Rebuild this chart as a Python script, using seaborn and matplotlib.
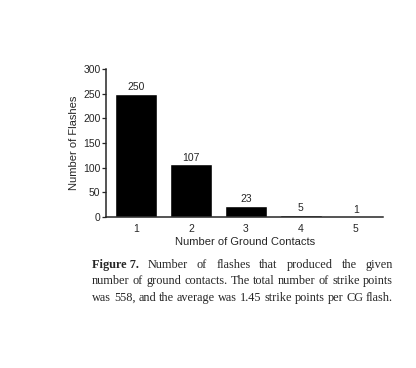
import matplotlib
matplotlib.use('Agg')
import matplotlib.pyplot as plt
import seaborn as sns
import pandas as pd

contacts = ['1', '2', '3', '4', '5']
flashes = [250, 107, 23, 5, 1]
y_ticks = [0, 50, 100, 150, 200, 250, 300]
fig_tag = 'Figure 7.'
caption_lines = [
    'Number of flashes that produced the given',
    'number of ground contacts. The total number of strike points',
    'was 558, and the average was 1.45 strike points per CG flash.',
]

sns.set_style('ticks')
plt.rcParams['font.family'] = ['Liberation Sans', 'DejaVu Sans']

df = pd.DataFrame({'contacts': contacts, 'flashes': flashes})

fig = plt.figure(figsize=(4.16, 3.68), dpi=100)
ax = fig.add_axes([0.255, 0.41, 0.666, 0.402])

sns.barplot(data=df, x='contacts', y='flashes', color='black', width=0.76,
            saturation=1, ax=ax)
ax.bar_label(ax.containers[0], labels=[str(v) for v in flashes], fontsize=7.5, padding=1)

ax.set_xlim(-0.55, 4.5)
ax.set_ylim(0, 300)
ax.set_yticks(y_ticks)
ax.tick_params(axis='y', labelsize=7.5, length=3, width=0.9, pad=1)
ax.tick_params(axis='x', labelsize=7.5, length=0, pad=5)
ax.set_xlabel('Number of Ground Contacts', fontsize=8, labelpad=2)
ax.set_ylabel('Number of Flashes', fontsize=8, labelpad=3)
sns.despine(ax=ax)
for s in ['left', 'bottom']:
    ax.spines[s].set_linewidth(1.1)

# caption, justified word by word
serif = ['Liberation Serif', 'DejaVu Serif']
x0, x1 = 92, 393
baselines = [268, 284, 301]  # whole pixels, keeps the words on one baseline
W, H = fig.bbox.width, fig.bbox.height
fig.canvas.draw()
r = fig.canvas.get_renderer()


def width(s, fs, weight='normal'):
    t = fig.text(0, 0, s, fontsize=fs, family=serif, weight=weight)
    w = t.get_window_extent(r).width
    t.remove()
    return w


fs = 9.4 * (x1 - x0) / max(width(caption_lines[1], 9.4), width(caption_lines[2], 9.4))

for i, line in enumerate(caption_lines):
    words = [(w, 'normal') for w in line.split()]
    if i == 0:
        words = [(fig_tag, 'bold')] + words
    y = 1 - baselines[i] / H
    arts = [fig.text(0, y, w, fontsize=fs, family=serif, weight=wt, va='baseline')
            for w, wt in words]
    widths = [a.get_window_extent(r).width for a in arts]
    gap = (x1 - x0 - sum(widths)) / (len(arts) - 1)
    x = x0
    for a, w in zip(arts, widths):
        a.set_x(x / W)
        x += w + gap

fig.savefig('out.png', dpi=100)
